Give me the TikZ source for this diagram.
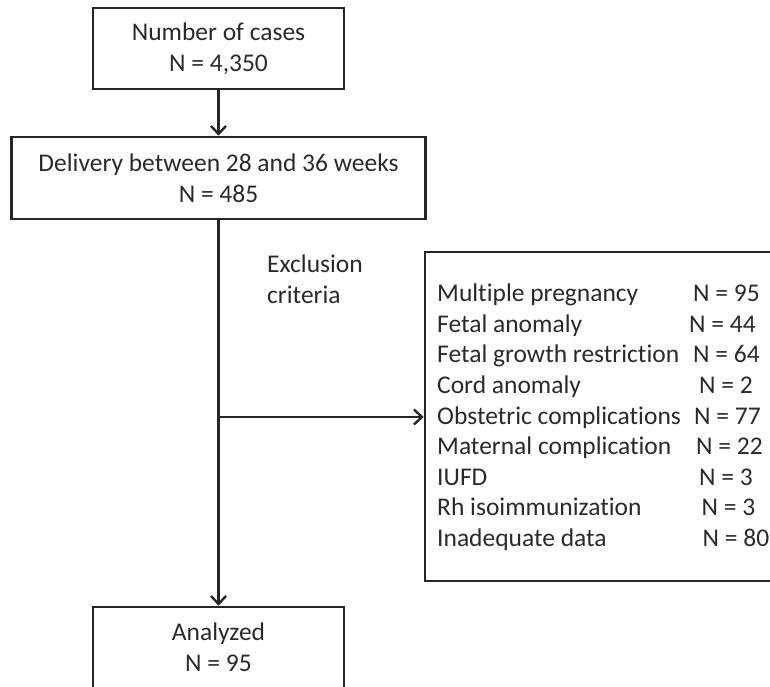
\documentclass[tikz,border=0pt]{standalone}
\usepackage{fontspec}
\setmainfont{Carlito}[Ligatures=NoCommon,RawFeature={-liga;-clig;-calt;-dlig}]
\usetikzlibrary{arrows.meta}
\definecolor{inkline}{HTML}{262626}
\definecolor{inktext}{HTML}{2A2A2A}
\newcommand{\flowfont}{\fontsize{25.5}{30.6}\selectfont}

\begin{document}
\begin{tikzpicture}[x=1pt,y=-1pt,
  stagebox/.style={draw=inkline,line width=2.6pt,align=center,inner sep=0pt,text=inktext,font=\flowfont},
  flowarrow/.style={draw=inkline,line width=2.6pt,-{Straight Barb[length=8pt,width=15pt,line width=2.4pt]}},
  listtext/.style={anchor=base west,inner sep=0pt,text=inktext,font=\flowfont}]
\useasboundingbox (0,0) rectangle (770,686);
\clip (0,0) rectangle (770,686);

\node[stagebox,minimum width=251pt,minimum height=81pt] (cases)     at (218.5, 48.5) {Number of cases\\N = 4,350};
\node[stagebox,minimum width=414pt,minimum height=82pt] (delivery)  at (218.5,178.0) {Delivery between 28 and 36 weeks\\N = 485};
\node[stagebox,minimum width=251pt,minimum height=81pt] (analyzed)  at (218.5,647.5) {Analyzed\\N = 95};
\node[stagebox,minimum width=362pt,minimum height=329pt] (excluded) at (606.0,416.5) {};
\node[listtext,align=left] (criteria) at (267,303) {Exclusion\\criteria};
\coordinate (branch) at (218.5,417);

% exclusion list, one line per cause
\foreach \cause/\count/\nx [count=\i] in {Multiple pregnancy/95/693,Fetal anomaly/44/689,
    Fetal growth restriction/64/693,Cord anomaly/2/699,Obstetric complications/77/694,
    Maternal complication/22/696,IUFD/3/699,Rh isoimmunization/3/701.5,Inadequate data/80/702.5}{
  \node[listtext] (cause\i) at (437,{301.7+30.6*(\i-1)}) {\cause};
  \node[listtext] (count\i) at (\nx,{301.7+30.6*(\i-1)}) {N = \count};
}

\draw[flowarrow] (cases.south) -- (delivery.north);
\draw[flowarrow] (delivery.south) -- (analyzed.north);
\draw[flowarrow] (branch) -- (branch -| excluded.west);
\end{tikzpicture}
\end{document}
